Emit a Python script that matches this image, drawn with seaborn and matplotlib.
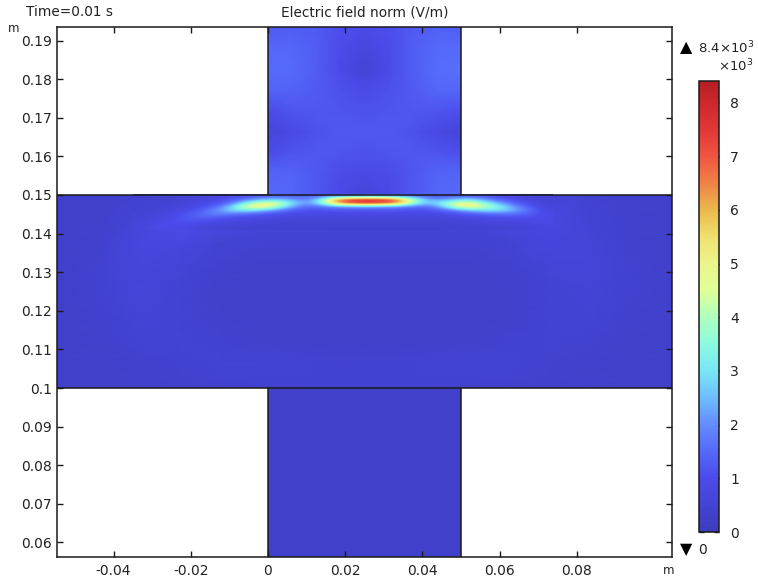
"""
plot.py
Electric field norm over a cross shaped domain, drawn in the COMSOL look.
"""

import numpy as np
import matplotlib
matplotlib.use('Agg')
import matplotlib.pyplot as plt
import seaborn as sns
from matplotlib.colors import LinearSegmentedColormap

# ── axis data ────────────────────────────────────────────────
X_TICKS = [-0.04, -0.02, 0, 0.02, 0.04, 0.06, 0.08]
X_LABELS = ['-0.04', '-0.02', '0', '0.02', '0.04', '0.06', '0.08']
Y_TICKS = [0.06, 0.07, 0.08, 0.09, 0.1, 0.11, 0.12, 0.13, 0.14, 0.15, 0.16, 0.17, 0.18, 0.19]
Y_LABELS = ['0.06', '0.07', '0.08', '0.09', '0.1', '0.11', '0.12', '0.13', '0.14', '0.15',
            '0.16', '0.17', '0.18', '0.19']
CBAR_TICKS = [0, 1, 2, 3, 4, 5, 6, 7, 8]

FIELD_MIN = 0
FIELD_MAX = 8.4

# ── colour scale (value, rgb) ────────────────────────────────
CMAP_VALUES = [0, 1, 1.5, 2, 2.5, 3, 3.5, 4, 4.5, 5, 5.5, 6, 6.5, 7, 7.5, 8, 8.4]
CMAP_COLORS = ['#3c3cbe', '#4b4beb', '#5569fa', '#648cff', '#6ebeff', '#78e6f5', '#8cfae1',
               '#afffbe', '#e1ff96', '#ebf58c', '#f0e16e', '#ebb94b', '#f08246', '#f05541',
               '#e13737', '#cd282d', '#b41e23']

# ── field values, x10^3 V/m ──────────────────────────────────
UPPER_ARM = [
    [1.25, 1.30, 1.25, 1.05, 0.95, 1.05, 1.25, 1.35, 1.30],
    [1.45, 1.45, 1.30, 1.00, 0.75, 1.00, 1.30, 1.50, 1.50],
    [1.55, 1.50, 1.30, 0.95, 0.55, 0.95, 1.30, 1.55, 1.60],
    [1.40, 1.40, 1.25, 1.10, 0.95, 1.10, 1.25, 1.45, 1.45],
    [1.00, 1.15, 1.20, 1.15, 1.10, 1.15, 1.20, 1.15, 1.05],
    [0.65, 0.85, 1.10, 1.20, 1.20, 1.20, 1.10, 0.85, 0.60],
    [1.00, 1.15, 1.20, 1.15, 1.10, 1.15, 1.20, 1.15, 1.05],
    [1.45, 1.40, 1.20, 1.00, 0.90, 1.00, 1.20, 1.40, 1.45],
    [1.50, 1.45, 1.20, 0.90, 0.60, 0.90, 1.20, 1.45, 1.50],
]

LOWER_ARM = [
    [0.30, 0.28, 0.28, 0.30],
    [0.28, 0.27, 0.27, 0.28],
    [0.28, 0.27, 0.27, 0.28],
    [0.28, 0.28, 0.28, 0.28],
]

BODY = [
    [.30, .30, .40, .50, .70, 1.0, 1.0, 1.2, 1.2, 1.0, 1.1, 1.0, .60, .40, .30, .30],
    [.30, .30, .55, 1.1, .90, .70, .60, .55, .55, .55, .60, .80, .85, .50, .35, .30],
    [.30, .35, .75, .75, .45, .40, .40, .40, .40, .40, .40, .45, .70, .55, .35, .30],
    [.30, .40, .65, .55, .35, .30, .30, .30, .30, .30, .30, .35, .55, .60, .40, .30],
    [.30, .40, .60, .45, .30, .28, .28, .28, .28, .28, .28, .30, .45, .55, .40, .30],
    [.30, .35, .55, .45, .32, .28, .28, .28, .28, .28, .28, .30, .45, .50, .35, .30],
    [.30, .33, .45, .50, .40, .32, .30, .30, .30, .30, .32, .40, .45, .40, .32, .30],
    [.30, .30, .35, .42, .50, .50, .45, .42, .42, .45, .48, .45, .38, .33, .30, .30],
    [.30, .30, .30, .32, .35, .38, .40, .40, .40, .40, .38, .35, .32, .30, .30, .30],
]

# thin band under the top edge of the body, where the hot spots are
HOT_BAND = [
    [.40, .42, .45, .50, .60, .70, .90, 1.1, 1.3, 1.4, 1.3, 1.2, 1.4, 1.6, 1.7, 1.8, 1.8, 1.7, 1.5, 1.2, 1.1, 1.3, 1.3, 1.1, .90, .70, .60, .50],
    [.40, .42, .45, .55, .70, .90, 1.2, 1.7, 2.2, 2.6, 2.2, 1.8, 3.0, 6.3, 7.4, 7.7, 7.6, 7.0, 4.6, 2.4, 2.0, 2.6, 2.8, 2.0, 1.4, 1.0, .70, .50],
    [.42, .45, .50, .60, .80, 1.0, 1.5, 3.2, 4.7, 4.8, 3.3, 1.9, 3.2, 6.2, 7.4, 7.7, 7.5, 6.8, 4.4, 2.5, 3.2, 4.6, 5.0, 3.4, 2.2, 1.4, .90, .55],
    [.45, .50, .55, .75, 1.0, 1.4, 2.7, 4.6, 5.2, 4.2, 2.4, 1.5, 1.6, 1.9, 2.0, 2.1, 2.0, 1.9, 1.7, 1.5, 2.3, 4.4, 5.1, 4.3, 3.2, 2.0, 1.2, .65],
    [.45, .55, .65, .90, 1.3, 1.9, 2.8, 3.2, 2.8, 2.0, 1.4, 1.1, 1.1, 1.2, 1.2, 1.2, 1.2, 1.2, 1.1, 1.1, 1.3, 1.9, 2.6, 3.0, 3.0, 2.3, 1.5, .80],
    [.50, .60, .80, 1.1, 1.5, 1.9, 1.8, 1.6, 1.3, 1.1, .95, .90, .85, .85, .85, .85, .85, .85, .85, .85, .90, 1.1, 1.3, 1.5, 1.6, 1.6, 1.3, .90],
    [.55, .70, .90, 1.2, 1.4, 1.3, 1.1, 1.0, .90, .80, .75, .70, .70, .70, .70, .70, .70, .70, .70, .70, .70, .80, .85, .95, 1.05, 1.1, 1.1, .90],
    [.60, .80, 1.0, 1.15, 1.1, .95, .80, .70, .65, .60, .55, .55, .55, .55, .55, .55, .55, .55, .55, .55, .55, .60, .65, .70, .75, .80, .85, .85],
    [.65, .85, 1.0, 1.0, .85, .70, .60, .55, .50, .45, .45, .45, .45, .45, .45, .45, .45, .45, .45, .45, .45, .50, .50, .55, .60, .60, .70, .80],
    [.70, .90, .90, .80, .65, .55, .50, .45, .40, .40, .40, .40, .40, .40, .40, .40, .40, .40, .40, .40, .40, .40, .45, .45, .50, .50, .60, .75],
]

# ── geometry, metres ─────────────────────────────────────────
X_LIM = (-0.05466, 0.10466)
Y_LIM = (0.05622, 0.19352)
ARM_X = (0, 0.05)
BODY_Y = (0.1, 0.15)
BAND_X = (-0.035, 0.0738)
BAND_Y = (0.14093, 0.15)

# ── layout ───────────────────────────────────────────────────
WIDTH, HEIGHT = 758, 579
TEXT_COLOR = '#222222'
LINE_COLOR = '#1a1a1a'
FONT_SIZE = 10.0


def px_box(left, top, right, bottom):
    """Figure rectangle from pixel edges of the reference."""
    return [left / WIDTH, 1 - bottom / HEIGHT, (right - left) / WIDTH, (bottom - top) / HEIGHT]


def fig_text(fig, x, y, text, **kws):
    kws.setdefault('ha', 'left')
    kws.setdefault('va', 'center')
    kws.setdefault('fontsize', FONT_SIZE)
    kws.setdefault('color', TEXT_COLOR)
    fig.text(x / WIDTH, 1 - y / HEIGHT, text, **kws)


def draw_domain(ax, field, x_range, y_range, cmap, **kws):
    """One rectangle of the domain as a smooth heatmap placed in data coords."""
    bounds = [x_range[0], y_range[0], x_range[1] - x_range[0], y_range[1] - y_range[0]]
    inset = ax.inset_axes(bounds, transform=ax.transData, zorder=1)
    sns.heatmap(np.array(field), ax=inset, cmap=cmap, vmin=FIELD_MIN, vmax=FIELD_MAX,
                xticklabels=False, yticklabels=False, shading='gouraud', **kws)
    nrows, ncols = np.shape(field)
    inset.set_xlim(0, ncols - 1)
    inset.set_ylim(nrows - 1, 0)
    inset.axis('off')
    return inset


def main():
    sns.set_theme(style='ticks')
    plt.rcParams['font.family'] = ['DejaVu Sans']
    plt.rcParams['mathtext.default'] = 'regular'

    cmap = LinearSegmentedColormap.from_list(
        'rainbow_light', [(v / FIELD_MAX, c) for v, c in zip(CMAP_VALUES, CMAP_COLORS)], N=512)

    fig = plt.figure(figsize=(WIDTH / 100, HEIGHT / 100), dpi=100)
    ax = fig.add_axes(px_box(57, 27, 672, 557))
    cax = fig.add_axes(px_box(699, 81, 719, 532))

    ax.set_xlim(*X_LIM)
    ax.set_ylim(*Y_LIM)

    # the colour bar comes from the first heatmap
    first = draw_domain(ax, BODY, X_LIM, BODY_Y, cmap, cbar=True, cbar_ax=cax,
                        cbar_kws={'ticks': CBAR_TICKS})
    draw_domain(ax, UPPER_ARM, ARM_X, (BODY_Y[1], Y_LIM[1]), cmap, cbar=False)
    draw_domain(ax, LOWER_ARM, ARM_X, (Y_LIM[0], BODY_Y[0]), cmap, cbar=False)

    # hot spots are too narrow for the body grid, colours must follow the scalar here
    ax.imshow(np.array(HOT_BAND), cmap=cmap, vmin=FIELD_MIN, vmax=FIELD_MAX, aspect='auto',
              extent=(BAND_X[0], BAND_X[1], BAND_Y[0], BAND_Y[1]), origin='upper',
              interpolation='bicubic', interpolation_stage='data', zorder=1.2)
    ax.set_xlim(*X_LIM)
    ax.set_ylim(*Y_LIM)

    # domain outline
    for y in BODY_Y:
        ax.plot(X_LIM, [y, y], color=LINE_COLOR, lw=1.1, zorder=2)
    for x in ARM_X:
        ax.plot([x, x], [BODY_Y[1], Y_LIM[1]], color=LINE_COLOR, lw=1.1, zorder=2)
        ax.plot([x, x], [Y_LIM[0], BODY_Y[0]], color=LINE_COLOR, lw=1.1, zorder=2)

    ax.set_axisbelow(False)
    ax.set_xticks(X_TICKS, X_LABELS)
    ax.set_yticks(Y_TICKS, Y_LABELS)
    ax.tick_params(direction='in', length=4.5, width=1, top=True, right=True,
                   labelsize=FONT_SIZE, labelcolor=TEXT_COLOR, color=LINE_COLOR, pad=3.5)
    ax.tick_params(axis='x', pad=5)
    for spine in ax.spines.values():
        spine.set_visible(True)
        spine.set_linewidth(1.1)
        spine.set_color(LINE_COLOR)

    # colour bar
    cb = first.collections[0].colorbar
    cb.outline.set_visible(True)
    cb.outline.set_linewidth(1.1)
    cb.outline.set_edgecolor(LINE_COLOR)
    cb.set_ticklabels([str(t) for t in CBAR_TICKS])
    cax.yaxis.set_ticks_position('both')
    cax.tick_params(direction='in', length=3.5, width=1, color=LINE_COLOR, labelright=True,
                    labelleft=False, labelsize=FONT_SIZE, labelcolor=TEXT_COLOR, pad=8)

    # texts around the axes
    fig_text(fig, 26, 12, 'Time=0.01 s', fontsize=9.8)
    fig_text(fig, 365, 12, 'Electric field norm (V/m)', ha='center', fontsize=9.8)
    fig_text(fig, 14, 28, 'm', ha='center', fontsize=8.6)
    fig_text(fig, 669, 571, 'm', ha='center', fontsize=8.6)
    fig_text(fig, 680, 48, '\u25b2', color='black', fontsize=11.5)
    fig_text(fig, 698, 48, '8.4\u00d710$^{3}$', fontsize=9.5)
    fig_text(fig, 718, 66, '\u00d710$^{3}$', fontsize=9.5)
    fig_text(fig, 680, 550, '\u25bc', color='black', fontsize=11.5)
    fig_text(fig, 698, 550, '0')

    fig.savefig('out.png', dpi=100)
    plt.close(fig)


if __name__ == '__main__':
    main()
